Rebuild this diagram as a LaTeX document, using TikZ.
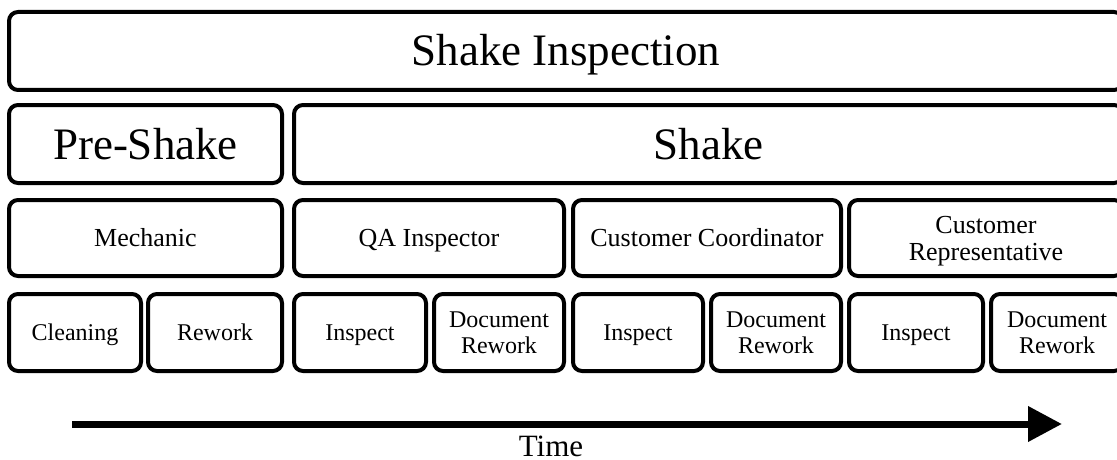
\documentclass[tikz,border=0pt]{standalone}
\usepackage{fontspec}
\setmainfont{Liberation Serif}
\usetikzlibrary{arrows.meta}
\newcommand{\bx}[7]{%
  \node[box, #7, minimum width={(#4-#2-4)*1pt}, minimum height={(#5-#3-4)*1pt}] (#1) at ({(#2+#4)/2},{(#3+#5)/2}) {#6};}
\tikzset{
  box/.style={draw=black, line width=4pt, rounded corners=9pt, inner sep=0pt, align=center, text=black},
  fbig/.style={font=\fontsize{45}{50}\selectfont, text height=30pt, text depth=0pt},
  fmid/.style={font=\fontsize{26}{27}\selectfont, text height=17pt, text depth=0pt},
  fmidtwo/.style={font=\fontsize{26}{27}\selectfont, text height=44pt, text depth=0pt},
  fsml/.style={font=\fontsize{24}{26}\selectfont, text height=16pt, text depth=0pt},
  fsmltwo/.style={font=\fontsize{24}{26}\selectfont, text height=42pt, text depth=0pt},
}
\begin{document}
\begin{tikzpicture}[x=1pt,y=-1pt]
\useasboundingbox (0,0) rectangle (1117,460);
\fill[white] (0,0) rectangle (1117,460);
\clip (0,0) rectangle (1117,460);
\bx{top}{7}{10}{1125}{92}{Shake Inspection}{fbig}
\bx{pre}{7}{103}{284}{185}{Pre-Shake}{fbig}
\bx{shake}{292}{103}{1125}{185}{Shake}{fbig}
\bx{mech}{7}{198}{284}{278}{Mechanic}{fmid}
\bx{qa}{292}{198}{566}{278}{QA Inspector}{fmid}
\bx{cc}{571}{198}{843}{278}{Customer Coordinator}{fmid}
\bx{cr}{847}{198}{1125}{278}{Customer\\Representative}{fmidtwo}
\bx{clean}{7}{292}{143}{373}{Cleaning}{fsml}
\bx{rew}{146}{292}{284}{373}{Rework}{fsml}
\bx{insA}{292}{292}{428}{373}{Inspect}{fsml}
\bx{docA}{432}{292}{566}{373}{Document\\Rework}{fsmltwo}
\bx{insB}{571}{292}{705}{373}{Inspect}{fsml}
\bx{docB}{709}{292}{843}{373}{Document\\Rework}{fsmltwo}
\bx{insC}{847}{292}{985}{373}{Inspect}{fsml}
\bx{docC}{989}{292}{1125}{373}{Document\\Rework}{fsmltwo}
\coordinate (ts) at (72,424);
\coordinate (te) at (1062,424);
\draw[line width=7pt, -{Triangle[length=34pt,width=34pt]}] (ts) -- (te);
\node[anchor=base, inner sep=0pt, text depth=0pt, font=\fontsize{31}{33}\selectfont] (time) at (551,456) {Time};
\end{tikzpicture}
\end{document}
